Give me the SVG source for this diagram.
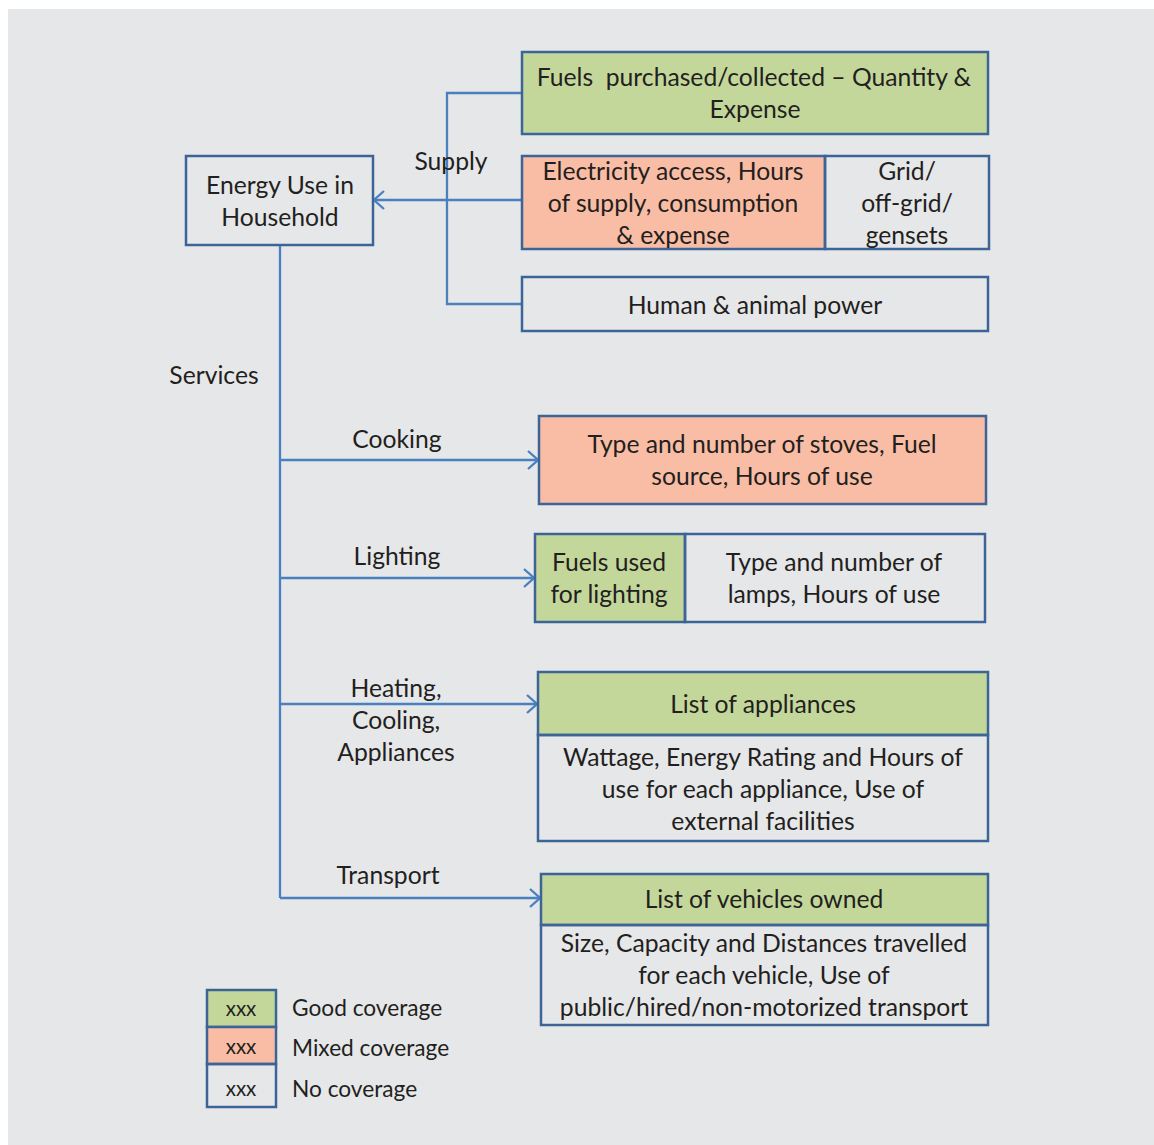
<svg xmlns="http://www.w3.org/2000/svg" width="1154" height="1145" viewBox="0 0 1154 1145">
<defs>
<style>
.t{font-family:Lato,"Open Sans","Liberation Sans",sans-serif;font-size:24.7px;fill:#231f20;text-anchor:middle}
.l{text-anchor:start}
.box{stroke:#3c6496;stroke-width:2.5}
.g{fill:#c4d79b}.s{fill:#f9bda5}.n{fill:none}
.c{fill:none;stroke:#4a80c0;stroke-width:2.3}
</style>
<marker id="ar" viewBox="0 0 12 20" refX="11" refY="10" markerWidth="12" markerHeight="20" markerUnits="userSpaceOnUse" orient="auto">
<path d="M1,1 L11,10 L1,19" fill="none" stroke="#4a80c0" stroke-width="2.3"/>
</marker>
</defs>
<rect x="0" y="0" width="1154" height="1145" fill="#ffffff"/>
<rect x="8" y="9" width="1146" height="1136" fill="#e6e7e9"/>
<g id="connectors">
<path class="c" d="M522,93 H447 V304 H522"/>
<path class="c" d="M522,200 H374" marker-end="url(#ar)"/>
<path class="c" d="M280,245 V898"/>
<path class="c" d="M280,460 H538" marker-end="url(#ar)"/>
<path class="c" d="M280,578 H534" marker-end="url(#ar)"/>
<path class="c" d="M280,704 H537" marker-end="url(#ar)"/>
<path class="c" d="M280,898 H540" marker-end="url(#ar)"/>
</g>
<g id="labels">
<text class="t" x="451" y="170">Supply</text>
<text class="t" x="214" y="384">Services</text>
<text class="t" x="397" y="448">Cooking</text>
<text class="t" x="397" y="565">Lighting</text>
<text class="t" x="396" y="697">Heating,</text>
<text class="t" x="396" y="729">Cooling,</text>
<text class="t" x="396" y="761">Appliances</text>
<text class="t" x="388" y="884">Transport</text>
</g>
<g id="household">
<rect class="box n" x="186" y="156" width="187" height="89"/>
<text class="t" x="280" y="194">Energy Use in</text>
<text class="t" x="280" y="226">Household</text>
</g>
<g id="fuels">
<rect class="box g" x="522" y="52" width="466" height="82"/>
<text class="t" x="754" y="86" xml:space="preserve">Fuels  purchased/collected – Quantity &amp;</text>
<text class="t" x="755" y="118">Expense</text>
</g>
<g id="electricity">
<rect class="box s" x="522" y="156" width="303" height="93"/>
<rect class="box n" x="825" y="156" width="164" height="93"/>
<text class="t" x="673" y="180">Electricity access, Hours</text>
<text class="t" x="673" y="212">of supply, consumption</text>
<text class="t" x="673" y="244">&amp; expense</text>
<text class="t" x="907" y="180">Grid/</text>
<text class="t" x="907" y="212">off-grid/</text>
<text class="t" x="907" y="244">gensets</text>
</g>
<g id="human">
<rect class="box n" x="522" y="277" width="466" height="54"/>
<text class="t" x="755" y="314">Human &amp; animal power</text>
</g>
<g id="cooking">
<rect class="box s" x="539" y="416" width="447" height="88"/>
<text class="t" x="762" y="453">Type and number of stoves, Fuel</text>
<text class="t" x="762" y="485">source, Hours of use</text>
</g>
<g id="lighting">
<rect class="box g" x="535" y="534" width="150" height="88"/>
<rect class="box n" x="685" y="534" width="300" height="88"/>
<text class="t" x="609" y="571">Fuels used</text>
<text class="t" x="609" y="603">for lighting</text>
<text class="t" x="834" y="571">Type and number of</text>
<text class="t" x="834" y="603">lamps, Hours of use</text>
</g>
<g id="appliances">
<rect class="box g" x="538" y="672" width="450" height="63"/>
<rect class="box n" x="538" y="735" width="450" height="106"/>
<text class="t" x="763" y="713">List of appliances</text>
<text class="t" x="763" y="766">Wattage, Energy Rating and Hours of</text>
<text class="t" x="763" y="798">use for each appliance, Use of</text>
<text class="t" x="763" y="830">external facilities</text>
</g>
<g id="transport">
<rect class="box g" x="541" y="874" width="447" height="51"/>
<rect class="box n" x="541" y="925" width="447" height="100"/>
<text class="t" x="764" y="908">List of vehicles owned</text>
<text class="t" x="764" y="952">Size, Capacity and Distances travelled</text>
<text class="t" x="764" y="984">for each vehicle, Use of</text>
<text class="t" x="764" y="1016">public/hired/non-motorized transport</text>
</g>
<g id="legend">
<rect class="box g" x="207" y="990" width="69" height="37"/>
<rect class="box s" x="207" y="1027" width="69" height="37"/>
<rect class="box n" x="207" y="1064" width="69" height="43"/>
<text class="t" x="241" y="1016" style="font-size:20.5px">xxx</text>
<text class="t" x="241" y="1054" style="font-size:20.5px">xxx</text>
<text class="t" x="241" y="1096" style="font-size:20.5px">xxx</text>
<text class="t l" x="292" y="1016" style="font-size:22.7px">Good coverage</text>
<text class="t l" x="292" y="1056" style="font-size:22.7px">Mixed coverage</text>
<text class="t l" x="292" y="1097" style="font-size:22.7px">No coverage</text>
</g>
</svg>
